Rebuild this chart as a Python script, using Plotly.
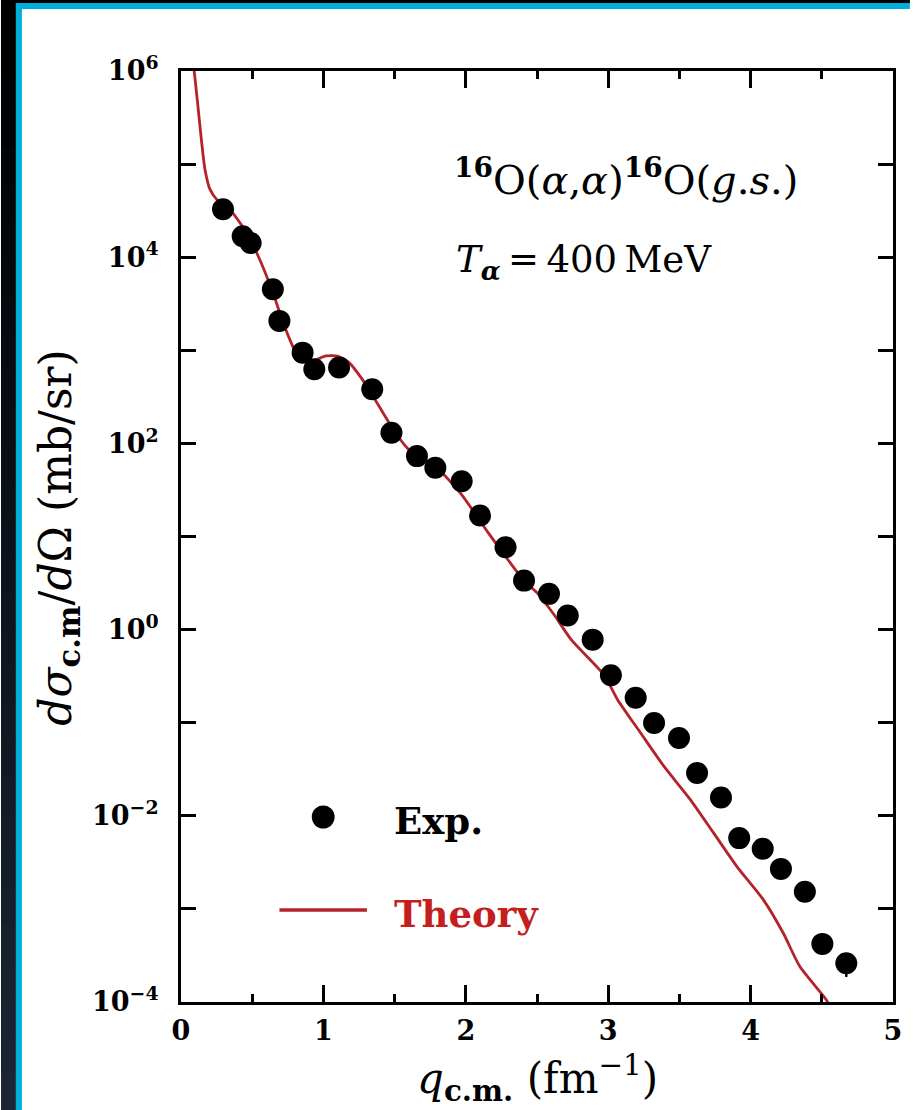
import plotly.graph_objects as go

# Measured differential cross sections, 16O(alpha,alpha)16O(g.s.) at 400 MeV
q_exp = [0.295, 0.433, 0.489, 0.645, 0.691, 0.854, 0.936, 1.110, 1.343, 1.478,
         1.657, 1.786, 1.971, 2.100, 2.279, 2.409, 2.584, 2.716, 2.891, 3.019,
         3.193, 3.322, 3.497, 3.624, 3.792, 3.920, 4.085, 4.213, 4.381, 4.504,
         4.672]
xs_exp = [3.28e4, 1.68e4, 1.42e4, 4.53e3, 2.07e3, 944, 625, 652, 381, 130,
          73.0, 54.8, 39.3, 16.8, 7.67, 3.36, 2.42, 1.42, 0.780, 0.323,
          0.185, 0.0993, 0.0684, 0.0288, 0.0157, 5.76e-3, 4.42e-3, 2.69e-3, 1.53e-3, 4.21e-4,
          2.61e-4]
xs_err_low = [0] * 30 + [7.5e-5]

# Calculated cross section (log10 of mb/sr)
q_theory = [0.085, 0.091, 0.121, 0.145, 0.168, 0.203, 0.249, 0.342, 0.459, 0.552,
            0.645, 0.726, 0.796, 0.854, 0.924, 1.017, 1.099, 1.180, 1.273, 1.390,
            1.506, 1.599, 1.786, 1.969, 2.158, 2.409, 2.507, 2.624, 2.740, 2.973,
            3.066, 3.228, 3.392, 3.578, 3.741, 3.904, 4.090, 4.230, 4.346, 4.532,
            4.560]
log_xs_theory = [6.075, 6.02, 5.59, 5.233, 4.946, 4.731, 4.624, 4.516, 4.265, 3.978,
                 3.620, 3.261, 3.011, 2.903, 2.885, 2.939, 2.939, 2.868, 2.688, 2.401,
                 2.115, 1.935, 1.756, 1.452, 1.039, 0.527, 0.384, 0.151, -0.108, -0.491,
                 -0.753, -1.111, -1.470, -1.828, -2.186, -2.545, -2.903, -3.262, -3.620, -3.978,
                 -4.060]
xs_theory = [10 ** v for v in log_xs_theory]

x_ticks = [0, 1, 2, 3, 4, 5]
x_minor = [0.5, 1.5, 2.5, 3.5, 4.5]
y_label_powers = [-4, -2, 0, 2, 4, 6]
y_minor_powers = [-3, -1, 1, 3, 5]

RED = "#b5232a"
SERIF = "DejaVu Serif"

W, H = 914, 1110
L, R, T, B = 181, 897, 71, 1002  # plot area in pixels


def px(x):
    return (x - L) / (R - L)


def py(y):
    return (B - y) / (B - T)


fig = go.Figure()

fig.add_trace(go.Scatter(
    x=q_theory, y=xs_theory, mode="lines",
    line=dict(color=RED, width=2.8, shape="spline", smoothing=0.6),
    showlegend=False, hoverinfo="skip",
))

fig.add_trace(go.Scatter(
    x=q_exp, y=xs_exp, mode="markers",
    marker=dict(color="black", size=22, line=dict(width=0)),
    error_y=dict(type="data", symmetric=False, array=[0] * len(q_exp),
                 arrayminus=xs_err_low, color="black", thickness=2.5, width=0),
    showlegend=False,
))

y_ticktext = [f"10<sup>{str(p).replace('-', chr(0x2212))}</sup>" for p in y_label_powers]

fig.update_xaxes(
    range=[0, 5], showline=True, linewidth=3, linecolor="black", mirror="ticks",
    ticks="inside", ticklen=17, tickwidth=2.5, tickcolor="black",
    tickvals=x_ticks, ticktext=[str(v) for v in x_ticks],
    tickfont=dict(family=SERIF, size=27, color="black", weight="bold"),
    ticklabelstandoff=3,
    minor=dict(tickvals=x_minor, ticks="inside", ticklen=8, tickwidth=2.5, tickcolor="black"),
    showgrid=False, zeroline=False,
)
fig.update_yaxes(
    type="log", range=[-4, 6], showline=True, linewidth=3, linecolor="black", mirror="ticks",
    ticks="inside", ticklen=15, tickwidth=2.5, tickcolor="black",
    tickvals=[10 ** p for p in y_label_powers], ticktext=y_ticktext,
    tickfont=dict(family=SERIF, size=27, color="black", weight="bold"),
    ticklabelstandoff=14,
    minor=dict(tickvals=[10 ** p for p in y_minor_powers], ticks="inside", ticklen=15,
               tickwidth=2.5, tickcolor="black"),
    showgrid=False, zeroline=False,
)

shapes = []
# dark strip on the left, fading from black to navy
n = 30
for i in range(n):
    t = i / (n - 1)
    r_, g_, b_ = int(0 + 28 * t), int(0 + 37 * t), int(0 + 53 * t)
    shapes.append(dict(type="rect", xref="paper", yref="paper",
                       x0=px(0), x1=px(15), y0=py(H * (i + 1) / n + 1), y1=py(H * i / n),
                       fillcolor=f"rgb({r_},{g_},{b_})", line=dict(width=0), layer="above"))
# black band along the top
shapes.append(dict(type="rect", xref="paper", yref="paper", x0=px(0), x1=px(W),
                   y0=py(3), y1=py(0), fillcolor="black", line=dict(width=0), layer="above"))
# cyan frame edges
shapes.append(dict(type="rect", xref="paper", yref="paper", x0=px(15), x1=px(W),
                   y0=py(9), y1=py(3), fillcolor="#00aedb", line=dict(width=0), layer="above"))
shapes.append(dict(type="rect", xref="paper", yref="paper", x0=px(15), x1=px(21),
                   y0=py(H), y1=py(3), fillcolor="#00aedb", line=dict(width=0), layer="above"))

# legend keys
shapes.append(dict(type="circle", xref="paper", yref="paper",
                   x0=px(312.5), x1=px(335.5), y0=py(828.5), y1=py(805.5),
                   fillcolor="black", line=dict(width=0)))
shapes.append(dict(type="line", xref="paper", yref="paper",
                   x0=px(280), x1=px(368), y0=py(910), y1=py(910),
                   line=dict(color=RED, width=3.5)))

annotations = [
    dict(text="<b>Exp.</b>", x=px(393), y=py(821), xref="paper", yref="paper",
         xanchor="left", yanchor="middle", showarrow=False,
         font=dict(family=SERIF, size=37, color="black")),
    dict(text="<b>Theory</b>", x=px(393), y=py(914), xref="paper", yref="paper",
         xanchor="left", yanchor="middle", showarrow=False,
         font=dict(family=SERIF, size=37, color="#c41e1e")),
    dict(text="<b><sup>16</sup></b>O(<i>α</i>,<i>α</i>)<b><sup>16</sup></b>O(<i>g</i>.<i>s</i>.)",
         x=px(454), y=py(177), xref="paper", yref="paper",
         xanchor="left", yanchor="middle", showarrow=False,
         font=dict(family=SERIF, size=40, color="black")),
    dict(text="<i>T</i><sub><b><i>α</i></b></sub>\u2009=\u2009400\u2009MeV",
         x=px(456), y=py(262), xref="paper", yref="paper",
         xanchor="left", yanchor="middle", showarrow=False,
         font=dict(family=SERIF, size=37, color="black")),
    dict(text="<i>dσ</i><sub><b>c.m</b></sub>/<i>d</i>Ω (mb/sr)",
         x=px(57), y=py(538), xref="paper", yref="paper", textangle=-90,
         xanchor="center", yanchor="middle", showarrow=False,
         font=dict(family=SERIF, size=44, color="black")),
    dict(text="<i>q</i><sub><b>c.m.</b></sub> (fm<sup>\u22121</sup>)",
         x=px(540), y=py(1078), xref="paper", yref="paper",
         xanchor="center", yanchor="middle", showarrow=False,
         font=dict(family=SERIF, size=42, color="black")),
]

fig.update_layout(
    width=W, height=H,
    margin=dict(l=L, r=W - R, t=T, b=H - B),
    paper_bgcolor="white", plot_bgcolor="white",
    shapes=shapes, annotations=annotations,
    showlegend=False,
)

fig.write_html("out.html")
